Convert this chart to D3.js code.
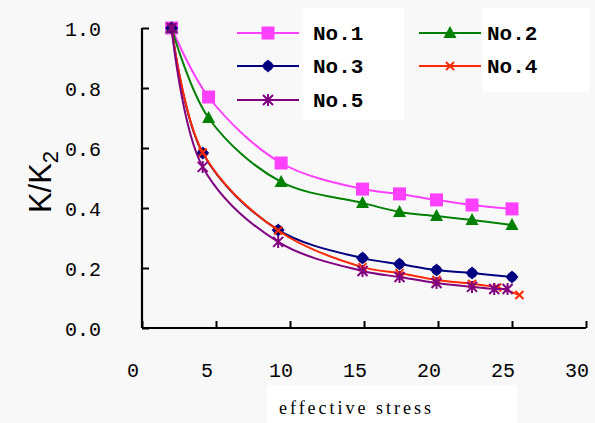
<!DOCTYPE html>
<html><head><meta charset="utf-8">
<script src="https://cdn.jsdelivr.net/npm/d3@7"></script>
<style>html,body{margin:0;padding:0;background:#f8f8f8;}svg{display:block;}</style>
</head><body>
<svg id="c" width="595" height="423"></svg>
<script>
// ---- data ----
const seriesNames = ["No.1","No.2","No.3","No.4","No.5"];
const x1 = [2, 4.5, 9.4, 14.9, 17.4, 19.9, 22.3, 25];
const y1 = [1.0, 0.77, 0.55, 0.463, 0.447, 0.427, 0.41, 0.397];
const x2 = [2, 4.5, 9.4, 14.9, 17.4, 19.9, 22.3, 25];
const y2 = [1.0, 0.70, 0.487, 0.417, 0.387, 0.373, 0.36, 0.343];
const x3 = [2, 4.1, 9.2, 14.9, 17.4, 19.9, 22.3, 25];
const y3 = [1.0, 0.583, 0.327, 0.233, 0.213, 0.193, 0.183, 0.17];
const x4 = [2, 4.1, 9.2, 14.9, 17.4, 19.9, 22.3, 24.0, 25.5];
const y4 = [1.0, 0.585, 0.325, 0.203, 0.183, 0.16, 0.147, 0.135, 0.11];
const x5 = [2, 4.1, 9.2, 14.9, 17.4, 19.9, 22.3, 23.8, 24.7];
const y5 = [1.0, 0.537, 0.287, 0.19, 0.17, 0.15, 0.137, 0.13, 0.13];
const xTicks = [0, 5, 10, 15, 20, 25, 30];
const yTicks = [0, 0.2, 0.4, 0.6, 0.8, 1.0];

const colors = ["#ff40ff", "#008000", "#000080", "#ff2a00", "#800080"];
const markers = ["square", "triangle", "diamond", "x", "star"];
const xs = [x1, x2, x3, x4, x5], ys = [y1, y2, y3, y4, y5];

const svg = d3.select("#c");
const x = d3.scaleLinear().domain([0, 30]).range([142, 586]);
const y = d3.scaleLinear().domain([0, 1]).range([328, 28]);

// text boxes (white)
svg.append("rect").attr("x", 302).attr("y", 8).attr("width", 102).attr("height", 112).attr("fill", "#fff");
svg.append("rect").attr("x", 482).attr("y", 8).attr("width", 108).attr("height", 84).attr("fill", "#fff");
svg.append("rect").attr("x", 267).attr("y", 385).attr("width", 250).attr("height", 38).attr("fill", "#fff");

// axes
const mono = "'Liberation Mono','DejaVu Sans Mono',monospace";
const xAxis = d3.axisBottom(x).tickValues(xTicks).tickSize(-7).tickFormat("");
const gx = svg.append("g").attr("transform", "translate(0,328)").call(xAxis);
const yAxis = d3.axisLeft(y).tickValues(yTicks).tickSize(-7).tickFormat("");
const gy = svg.append("g").attr("transform", "translate(142,0)").call(yAxis);
[gx, gy].forEach(g => {
  g.select(".domain").attr("stroke", "#000").attr("stroke-width", 2.2);
  g.selectAll(".tick line").attr("stroke", "#000").attr("stroke-width", 2);
});
gx.select(".domain").attr("d", "M142,0H586");
gy.select(".domain").attr("d", "M0,28V328");

svg.append("g").selectAll("text").data(xTicks).join("text")
  .attr("x", d => x(d) - 9).attr("y", 377)
  .attr("text-anchor", "middle").attr("font-family", mono).attr("font-size", 20)
  .attr("fill", "#000").text(d => d);
svg.append("g").selectAll("text").data(yTicks).join("text")
  .attr("x", 101).attr("y", d => y(d) + 8)
  .attr("text-anchor", "end").attr("font-family", mono).attr("font-size", 20)
  .attr("fill", "#000").text(d => d.toFixed(1));

// axis titles
svg.append("text").attr("x", 355).attr("y", 414).attr("text-anchor", "middle")
  .attr("font-family", "'Liberation Serif','Times New Roman',serif").attr("font-size", 18)
  .attr("textLength", 152).attr("lengthAdjust", "spacing").text("effective stress");
const yt = svg.append("text").attr("transform", "translate(51,182) rotate(-90)")
  .attr("text-anchor", "middle").attr("font-family", "'Liberation Sans',Arial,sans-serif")
  .attr("font-size", 31).attr("fill", "#000");
yt.append("tspan").text("K/K");
yt.append("tspan").attr("font-size", 22).attr("dy", 7).text("2");

// markers
function drawMarker(g, type, cx, cy, color) {
  if (type === "square") {
    g.append("rect").attr("x", cx - 6.5).attr("y", cy - 6.5).attr("width", 13).attr("height", 13).attr("fill", color);
  } else if (type === "triangle") {
    g.append("path").attr("d", `M${cx},${cy-7}L${cx+6.5},${cy+5}L${cx-6.5},${cy+5}Z`).attr("fill", color);
  } else if (type === "diamond") {
    g.append("path").attr("d", `M${cx},${cy-6.5}L${cx+6.5},${cy}L${cx},${cy+6.5}L${cx-6.5},${cy}Z`).attr("fill", color);
    g.append("circle").attr("cx", cx).attr("cy", cy).attr("r", 5).attr("fill", color);
  } else if (type === "x") {
    g.append("path").attr("d", `M${cx-4},${cy-4}L${cx+4},${cy+4}M${cx+4},${cy-4}L${cx-4},${cy+4}`)
      .attr("stroke", color).attr("stroke-width", 2);
  } else if (type === "star") {
    g.append("path").attr("d", `M${cx-5},${cy-5}L${cx+5},${cy+5}M${cx+5},${cy-5}L${cx-5},${cy+5}M${cx},${cy-6}V${cy+6}`)
      .attr("stroke", color).attr("stroke-width", 2);
  }
}

const line = d3.line().x(d => x(d[0])).y(d => y(d[1])).curve(d3.curveCatmullRom.alpha(0.5));
[0, 1, 2, 3, 4].forEach(i => {
  const pts = xs[i].map((v, k) => [v, ys[i][k]]);
  const g = svg.append("g");
  g.append("path").attr("d", line(pts)).attr("fill", "none").attr("stroke", colors[i]).attr("stroke-width", 2);
  pts.forEach(p => drawMarker(g, markers[i], x(p[0]), y(p[1]), colors[i]));
});

// legend
const legPos = [[237, 33, 313], [419, 33, 487], [237, 66, 313], [419, 66, 487], [237, 100, 313]];
seriesNames.forEach((name, i) => {
  const [lx, ly, tx] = legPos[i];
  const g = svg.append("g");
  g.append("line").attr("x1", lx).attr("x2", lx + 62).attr("y1", ly).attr("y2", ly)
    .attr("stroke", colors[i]).attr("stroke-width", 2);
  drawMarker(g, markers[i], lx + 31, ly, colors[i]);
  g.append("text").attr("x", tx).attr("y", ly + 7).attr("font-family", mono)
    .attr("font-weight", "bold").attr("font-size", 21).attr("fill", "#000").text(name);
});
</script>
</body></html>
